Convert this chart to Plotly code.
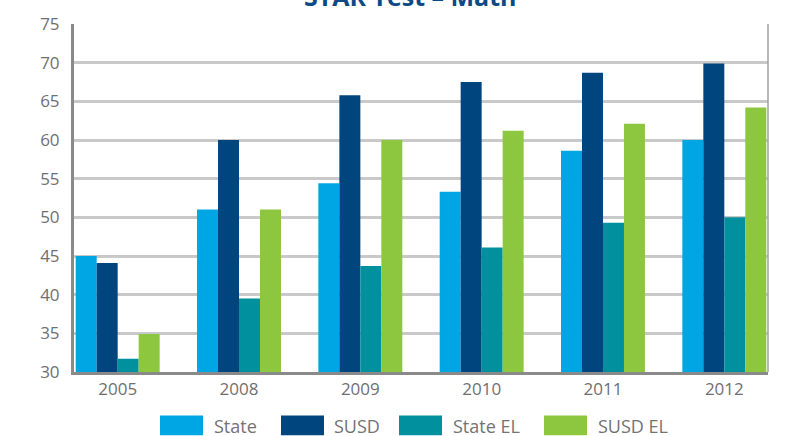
import plotly.graph_objects as go

years = ["2005", "2008", "2009", "2010", "2011", "2012"]
series_names = ["State", "SUSD", "State EL", "SUSD EL"]
state = [45.0, 51.0, 54.4, 53.3, 58.6, 60.0]
susd = [44.1, 60.0, 65.8, 67.5, 68.7, 69.9]
state_el = [31.7, 39.5, 43.7, 46.1, 49.3, 50.0]
susd_el = [34.9, 51.0, 60.0, 61.2, 62.1, 64.2]
colors = ["#00A5E3", "#00457D", "#00909E", "#8DC63F"]
y_ticks = [30, 35, 40, 45, 50, 55, 60, 65, 70, 75]
title_text = "<b>STAR Test – Math</b>"

W, H = 785, 436
L, R, T, B = 74, 768, 20, 372

fig = go.Figure()
for name, vals, c in zip(series_names, [state, susd, state_el, susd_el], colors):
    fig.add_trace(go.Bar(x=years, y=vals, name=name, marker=dict(color=c, line=dict(width=0)),
                         showlegend=False, hoverinfo="skip"))

def px_x(p):
    return (p - L) / (R - L)

def px_y(p):
    return (B - p) / (B - T)

shapes = [dict(type="line", xref="paper", yref="paper", x0=1, x1=1, y0=0, y1=1,
               line=dict(color="#a0a0a0", width=1.5))]
annotations = [dict(text=title_text, xref="paper", yref="paper", x=px_x(410), y=px_y(-8),
                    xanchor="center", yanchor="middle", showarrow=False,
                    font=dict(family="Open Sans", size=25, color="#0B4A86"))]
legend_pos = [(160, 212), (281, 332), (399, 451), (544, 596)]
for (sx, tx), name, c in zip(legend_pos, series_names, colors):
    shapes.append(dict(type="rect", xref="paper", yref="paper",
                       x0=px_x(sx), x1=px_x(sx + 43), y0=px_y(436), y1=px_y(416),
                       fillcolor=c, line=dict(width=0)))
    annotations.append(dict(text=name, xref="paper", yref="paper", x=px_x(tx), y=px_y(427),
                            xanchor="left", yanchor="middle", showarrow=False,
                            font=dict(family="Open Sans", size=18, color="#737373")))

fig.update_layout(
    width=W, height=H,
    margin=dict(l=L, r=W - R, t=T, b=H - B, pad=0),
    paper_bgcolor="white", plot_bgcolor="white",
    barmode="group", bargap=0.308, bargroupgap=0,
    xaxis=dict(range=[-0.36, 5.36], showgrid=False, showline=True, linecolor="#8a8a8a",
               linewidth=3, ticks="", tickfont=dict(family="Open Sans", size=17, color="#6f6f6f"),
               fixedrange=True),
    yaxis=dict(range=[30, 75], tickvals=y_ticks, showgrid=True, gridcolor="#c9c9c9", gridwidth=2.5,
               showline=True, linecolor="#8a8a8a", linewidth=3, ticks="", zeroline=False,
               tickfont=dict(family="Open Sans", size=17, color="#6f6f6f"), ticklabelstandoff=8),
    shapes=shapes, annotations=annotations,
)

fig.write_html("out.html", config={"displayModeBar": False},
               post_script="document.body.style.margin='0';document.body.style.padding='0';document.body.style.overflow='hidden';")
